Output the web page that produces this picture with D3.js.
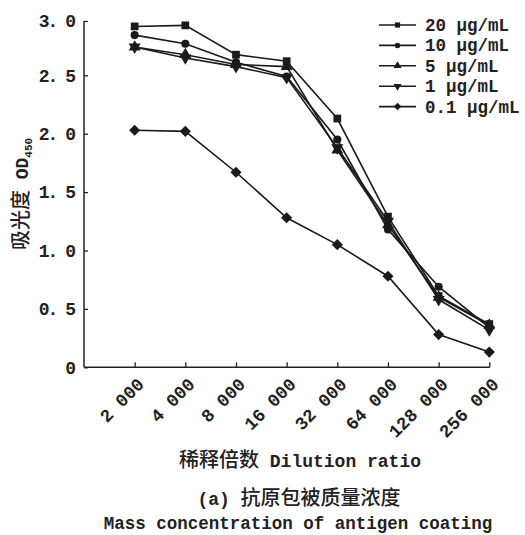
<!DOCTYPE html>
<html>
<head>
<meta charset="utf-8">
<style>
  body { margin: 0; background: #fff; }
  text { font-family: "Liberation Mono", "Noto Sans CJK SC", monospace; fill: #222; font-weight: bold; }
  .cjk { font-family: "Noto Sans CJK SC", sans-serif; font-weight: 500; }
</style>
</head>
<body>
<div id="chart"></div>
<script src="https://cdn.jsdelivr.net/npm/d3@7"></script>
<script>
// dilution ratios on x axis
const dilutions = ["2 000", "4 000", "8 000", "16 000", "32 000", "64 000", "128 000", "256 000"];
const yTicks = [0, 0.5, 1.0, 1.5, 2.0, 2.5, 3.0];

// OD450 readings for each coating concentration
const od20 = [2.95, 2.96, 2.69, 2.63, 2.13, 1.29, 0.61, 0.37];
const od10 = [2.87, 2.79, 2.62, 2.49, 1.95, 1.18, 0.69, 0.34];
const od5 = [2.76, 2.69, 2.60, 2.58, 1.86, 1.22, 0.60, 0.36];
const od1 = [2.76, 2.66, 2.58, 2.48, 1.88, 1.25, 0.58, 0.32];
const od01 = [2.03, 2.02, 1.67, 1.28, 1.05, 0.78, 0.28, 0.13];

const seriesNames = ["20 μg/mL", "10 μg/mL", "5 μg/mL", "1 μg/mL", "0.1 μg/mL"];
const seriesValues = [od20, od10, od5, od1, od01];
const seriesMarks = ["square", "circle", "up", "down", "diamond"];

const W = 525, H = 535;
const left = 84, right = 489.3, bottom = 367.3;
const step = (right - left) / dilutions.length;

const svg = d3.select("#chart").append("svg")
  .attr("width", W).attr("height", H);

const x = d3.scalePoint().domain(dilutions).range([left + step, right]);
// the printed axis is slightly compressed between 2.5 and 3.0
const y = d3.scaleLinear().domain([0, 2.5, 3.0]).range([bottom, 75.3, 21]);

function symbolFor(kind, big) {
  const s = big ? 1 : 0.45;
  if (kind === "square") return d3.symbol(d3.symbolSquare, 60 * s)();
  if (kind === "circle") return d3.symbol(d3.symbolCircle, 52 * s)();
  if (kind === "up" || kind === "down") return d3.symbol(d3.symbolTriangle, 62 * s)();
  return d3.symbol(d3.symbolSquare, 62 * s)();
}
function rot(kind) {
  if (kind === "down") return " rotate(180)";
  if (kind === "diamond") return " rotate(45)";
  return "";
}

// axes
const gx = svg.append("g").attr("transform", `translate(0,${bottom})`)
  .call(d3.axisBottom(x).tickSize(-5).tickSizeOuter(0).tickFormat(""));
gx.select(".domain").remove();
gx.selectAll(".tick line").attr("stroke", "#222").attr("stroke-width", 1.3);

svg.append("line")
  .attr("x1", left).attr("x2", right + 0.5)
  .attr("y1", bottom).attr("y2", bottom)
  .attr("stroke", "#222").attr("stroke-width", 1.5);

gx.selectAll(".tick").append("text")
  .attr("transform", "translate(10,18) rotate(-45)")
  .attr("text-anchor", "end")
  .attr("font-size", 18)
  .attr("fill", "#222")
  .text(d => d);

const gy = svg.append("g").attr("transform", `translate(${left},0)`)
  .call(d3.axisLeft(y).tickValues(yTicks).tickSize(-4).tickSizeOuter(0)
    .tickFormat(d => d === 0 ? "0" : d3.format(".1f")(d).replace(".", ". ")));
gy.select(".domain").attr("stroke", "#222").attr("stroke-width", 1.5)
  .attr("d", `M0,${y(3)}V${bottom}`);
gy.selectAll(".tick line").attr("stroke", "#222").attr("stroke-width", 1.3);
gy.selectAll(".tick text")
  .attr("x", -10)
  .attr("font-size", 18)
  .attr("font-family", "Liberation Mono")
  .attr("fill", "#222")
  .style("letter-spacing", "-2px");

// lines and markers
const line = d3.line()
  .x((d, i) => x(dilutions[i]))
  .y(d => y(d));

seriesValues.forEach(vals => {
  svg.append("path")
    .datum(vals)
    .attr("d", line)
    .attr("fill", "none")
    .attr("stroke", "#1a1a1a")
    .attr("stroke-width", 1.6);
});

seriesValues.forEach((vals, k) => {
  svg.append("g").selectAll("path")
    .data(vals)
    .join("path")
    .attr("d", symbolFor(seriesMarks[k], true))
    .attr("transform", (d, i) => `translate(${x(dilutions[i])},${y(d)})` + rot(seriesMarks[k]))
    .attr("fill", "#1a1a1a");
});

// legend
const legend = svg.append("g").attr("transform", "translate(379,25)");
seriesNames.forEach((name, k) => {
  const row = legend.append("g").attr("transform", `translate(0,${k * 20.4})`);
  row.append("line").attr("x1", 0).attr("x2", 37).attr("y1", 0).attr("y2", 0)
    .attr("stroke", "#1a1a1a").attr("stroke-width", 1.6);
  row.append("path").attr("d", symbolFor(seriesMarks[k], false))
    .attr("transform", `translate(18.5,0)` + rot(seriesMarks[k]))
    .attr("fill", "#1a1a1a");
  row.append("text").attr("x", 46).attr("y", 6)
    .attr("font-size", 17.5)
    .text(name);
});

// y axis title
const yt = svg.append("text")
  .attr("transform", "translate(28,194) rotate(-90)")
  .attr("text-anchor", "middle")
  .attr("font-size", 18);
yt.append("tspan").attr("class", "cjk").attr("font-size", 20).text("吸光度");
yt.append("tspan").text(" OD");
yt.append("tspan").attr("font-size", 11).attr("dy", 4).text("450");

// x axis title and caption
const xt = svg.append("text").attr("x", 300).attr("y", 467)
  .attr("text-anchor", "middle").attr("font-size", 18);
xt.append("tspan").attr("class", "cjk").attr("font-size", 20).text("稀释倍数");
xt.append("tspan").text(" Dilution ratio");

const cap = svg.append("text").attr("x", 299).attr("y", 505)
  .attr("text-anchor", "middle").attr("font-size", 18);
cap.append("tspan").text("(a) ");
cap.append("tspan").attr("class", "cjk").attr("font-size", 20).text("抗原包被质量浓度");

svg.append("text").attr("x", 298).attr("y", 529)
  .attr("text-anchor", "middle").attr("font-size", 17.5)
  .text("Mass concentration of antigen coating");
</script>
</body>
</html>
